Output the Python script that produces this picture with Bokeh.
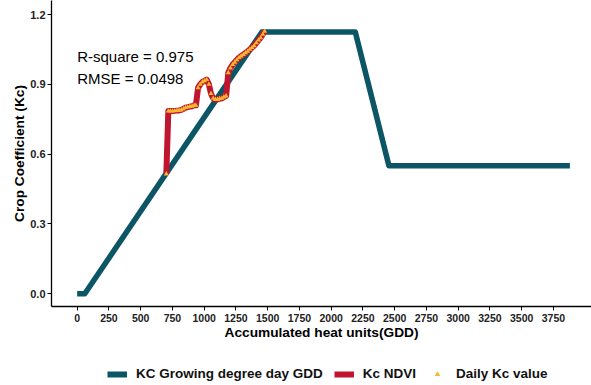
from bokeh.plotting import figure
from bokeh.layouts import column
from bokeh.models import (Range1d, FixedTicker, Legend, LegendItem, Label)
from bokeh.embed import file_html
from bokeh.resources import INLINE

# --- Data -------------------------------------------------------------
# Kc curve derived from growing degree days (GDD)
gdd_curve = [0, 60, 1455, 2190, 2455, 3880]
kc_curve = [0.0, 0.0, 1.125, 1.125, 0.55, 0.55]

# Kc from NDVI (daily values)
gdd_ndvi = [702, 718, 735, 752, 769, 786, 803, 820, 837, 854, 871, 888, 905,
            922, 935, 952, 969, 986, 1003, 1020, 1037, 1054, 1071, 1088, 1105,
            1122, 1139, 1156, 1173, 1190, 1207, 1224, 1241, 1258, 1275, 1292,
            1309, 1326, 1343, 1360, 1377, 1394, 1411, 1428, 1445, 1462, 1476]
kc_ndvi = [0.515, 0.785, 0.785, 0.785, 0.786, 0.787, 0.788, 0.790, 0.795,
           0.800, 0.802, 0.804, 0.806, 0.810, 0.810, 0.885, 0.900, 0.910,
           0.915, 0.920, 0.900, 0.860, 0.840, 0.835, 0.835, 0.838, 0.840,
           0.845, 0.850, 0.950, 0.970, 0.985, 0.995, 1.005, 1.015, 1.022,
           1.028, 1.035, 1.042, 1.050, 1.058, 1.066, 1.078, 1.090, 1.100,
           1.115, 1.128]

x_ticks = [0, 250, 500, 750, 1000, 1250, 1500, 1750, 2000, 2250, 2500, 2750,
           3000, 3250, 3500, 3750]
y_ticks = [0.0, 0.3, 0.6, 0.9, 1.2]
stats_text = ["R-square = 0.975", "RMSE = 0.0498"]
legend_labels = ["KC Growing degree day GDD", "Kc NDVI", "Daily Kc value"]

TEAL = "#0B5565"
RED = "#C0152F"
GOLD = "#F5B82E"
FONT = "Liberation Sans"

p = figure(width=591, height=350, output_backend="svg", toolbar_location=None,
           x_range=Range1d(-202, 4050), y_range=Range1d(-0.0546, 1.2602),
           min_border_left=51, min_border_right=0, min_border_top=0,
           min_border_bottom=44)
p.outline_line_color = None
p.xgrid.visible = False
p.ygrid.visible = False
p.background_fill_color = "white"
p.border_fill_color = "white"

p.line(gdd_curve, kc_curve, line_color=TEAL, line_width=5.5, line_join="round")
p.line(gdd_ndvi, kc_ndvi, line_color=RED, line_width=6, line_join="round")
p.scatter(gdd_ndvi, kc_ndvi, marker="triangle", size=5,
          fill_color=GOLD, line_color=None)

for ax in (p.xaxis[0], p.yaxis[0]):
    ax.axis_line_color = "black"
    ax.axis_line_width = 1.3
    ax.major_tick_line_color = "black"
    ax.major_tick_out = 4
    ax.major_tick_in = 0
    ax.minor_tick_line_color = None
    ax.major_label_text_font = FONT
    ax.major_label_text_font_style = "bold"
    ax.major_label_text_color = "#222222"
    ax.axis_label_text_font = FONT
    ax.axis_label_text_font_style = "bold"
    ax.axis_label_text_font_size = "13.7px"
    ax.axis_label_text_color = "black"

p.xaxis.major_label_text_font_size = "10.5px"
p.yaxis.major_label_text_font_size = "11px"
p.xaxis.ticker = FixedTicker(ticks=x_ticks)
p.yaxis.ticker = FixedTicker(ticks=y_ticks)
p.yaxis.major_label_overrides = {v: f"{v:.1f}" for v in y_ticks}
p.xaxis.axis_label = "Accumulated heat units(GDD)"
p.yaxis.axis_label = "Crop Coefficient (Kc)"
p.xaxis.major_label_standoff = 3
p.xaxis.axis_label_standoff = 0
p.yaxis.major_label_standoff = 2
p.yaxis.axis_label_standoff = 0

for txt, yv in zip(stats_text, [1.02, 0.925]):
    p.add_layout(Label(x=0, y=yv, text=txt, text_font=FONT,
                       text_font_size="15px", text_baseline="middle",
                       text_align="left", text_color="black"))

# --- legend strip below the chart -------------------------------------
pl = figure(width=591, height=35, output_backend="svg", toolbar_location=None,
            x_axis_type=None, y_axis_type=None, x_range=Range1d(0, 1),
            y_range=Range1d(0, 1), min_border=0)
pl.outline_line_color = None
pl.xgrid.visible = False
pl.ygrid.visible = False
# legend-only glyphs, kept outside the visible range
g1 = pl.line([-5, -4], [-5, -5], line_color=TEAL, line_width=6)
g2 = pl.line([-5, -4], [-5, -5], line_color=RED, line_width=6)
g3 = pl.scatter([-5], [-5], marker="triangle", size=5, fill_color=GOLD,
                line_color=None)

legend = Legend(items=[
    LegendItem(label=legend_labels[0], renderers=[g1]),
    LegendItem(label=legend_labels[1], renderers=[g2]),
    LegendItem(label=legend_labels[2], renderers=[g3]),
], orientation="horizontal", location=(56, 4), padding=0, margin=0,
    spacing=11, label_standoff=9, glyph_width=20, glyph_height=14,
    label_height=14, border_line_color=None, background_fill_alpha=0,
    label_text_font=FONT, label_text_font_style="bold",
    label_text_font_size="13.5px", label_text_color="#111111")
pl.add_layout(legend, "center")

layout = column(p, pl, spacing=0)
open("out.html", "w").write(file_html(layout, INLINE))
